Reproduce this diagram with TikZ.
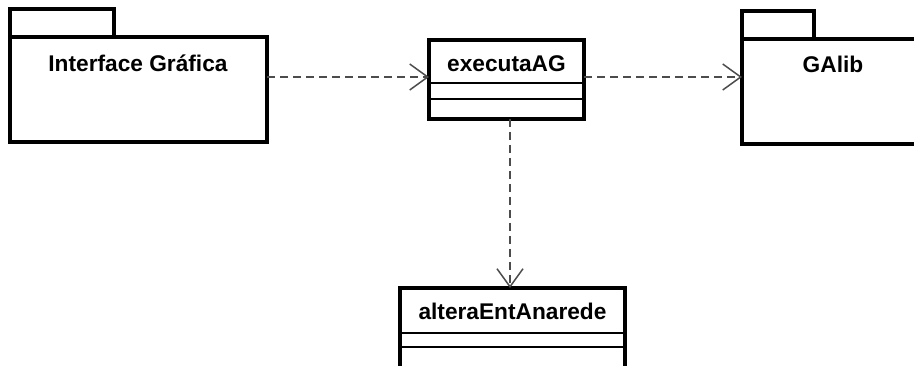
\documentclass[tikz,border=0pt]{standalone}
\usepackage{fontspec}
\setmainfont{Liberation Sans}
\usetikzlibrary{arrows.meta}
\begin{document}
\begin{tikzpicture}[x=1pt,y=-1pt,
  outline/.style={draw=black, line width=3.2pt, inner sep=0pt, outer sep=0pt},
  split/.style={draw=black, line width=1.5pt},
  title/.style={font=\fontsize{22.7}{24}\selectfont\bfseries, inner sep=0pt, anchor=base},
  dep/.style={draw=black!70, line width=1.6pt, dash pattern=on 8pt off 5pt,
    -{Straight Barb[length=18pt,width=26pt,line width=1.5pt]}}]
\useasboundingbox (0,0) rectangle (914,366);
\clip (0,0) rectangle (914,366);

% package: Interface Grafica
\node[outline, minimum width=104pt, minimum height=28pt, anchor=north west] (igtab) at (10,9) {};
\node[outline, minimum width=257pt, minimum height=105pt, anchor=north west, fill=white] (ig) at (10,37) {};
\node[title] (igname) at (138,72) {Interface Gráfica};

% package: GAlib (runs past the right edge)
\node[outline, minimum width=72pt, minimum height=28pt, anchor=north west] (gatab) at (742,11) {};
\node[outline, minimum width=257pt, minimum height=105pt, anchor=north west, fill=white] (ga) at (742,39) {};
\node[title] (ganame) at (833,73) {GAlib};

% class: executaAG
\node[outline, minimum width=155pt, minimum height=79pt, anchor=north west] (ex) at (429,40) {};
\node[title] (exname) at (506.5,72) {executaAG};
\coordinate (exa) at (429,83);
\coordinate (exb) at (429,99);
\draw[split] (exa) -- (exa -| ex.east);
\draw[split] (exb) -- (exb -| ex.east);

% class: alteraEntAnarede (runs past the bottom edge)
\node[outline, minimum width=225pt, minimum height=100pt, anchor=north west] (al) at (400,288) {};
\node[title] (alname) at (512.5,320) {alteraEntAnarede};
\coordinate (ala) at (400,333);
\coordinate (alb) at (400,347);
\draw[split] (ala) -- (ala -| al.east);
\draw[split] (alb) -- (alb -| al.east);

% dependencies
\coordinate (exout) at (510,119);
\draw[dep] (ig.east |- 0,77) -- (ex.west |- 0,77);
\draw[dep] (ex.east |- 0,77) -- (ga.west |- 0,77);
\draw[dep] (exout) -- (exout |- al.north);
\end{tikzpicture}
\end{document}
